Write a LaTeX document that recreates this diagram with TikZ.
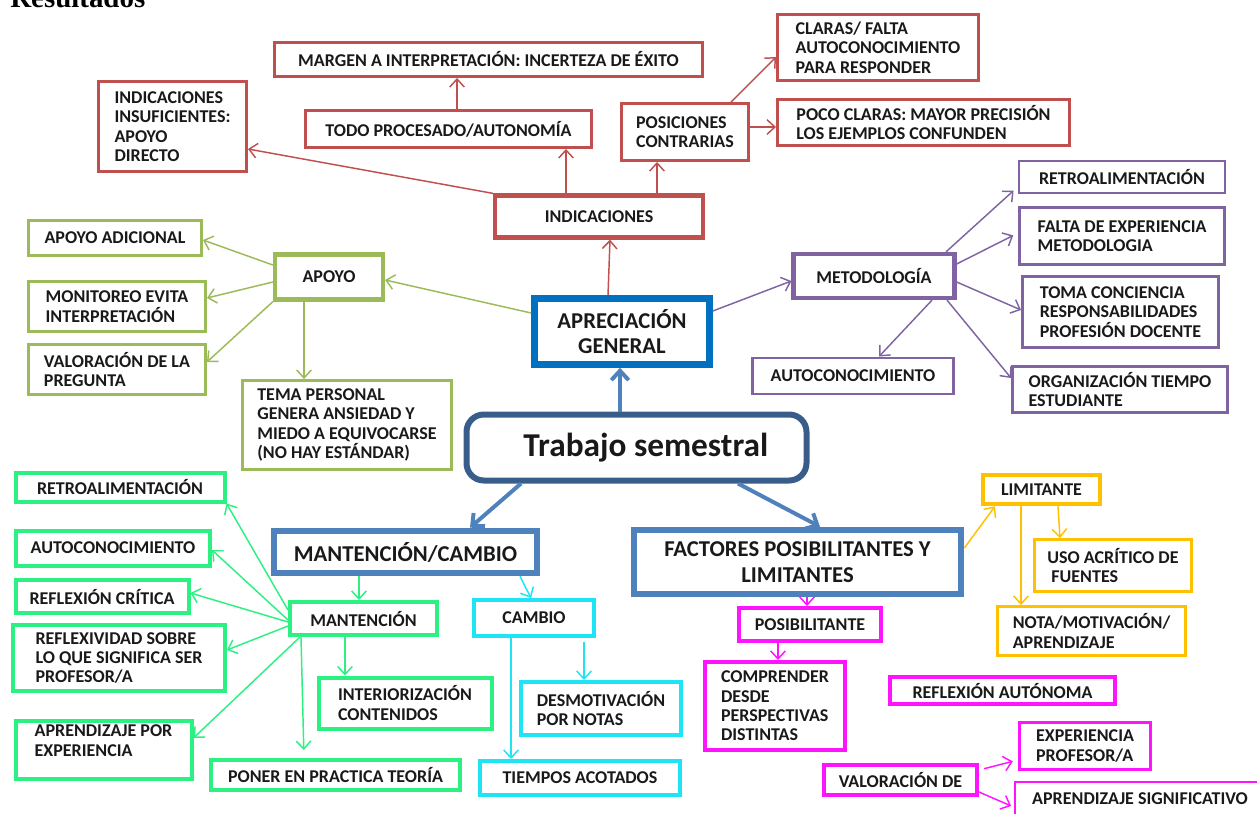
\documentclass[tikz,border=0pt]{standalone}
\usepackage{fontspec}
\setmainfont{Carlito}
\newfontfamily\titlefont{Liberation Serif}
\usetikzlibrary{arrows.meta}

\definecolor{cred}{RGB}{192,80,77}
\definecolor{colive}{RGB}{155,187,89}
\definecolor{cpurple}{RGB}{128,100,162}
\definecolor{cblue}{RGB}{0,112,192}
\definecolor{chead}{RGB}{79,129,189}
\definecolor{cmain}{RGB}{56,93,138}
\definecolor{cgreen}{RGB}{45,240,130}
\definecolor{ccyan}{RGB}{30,228,245}
\definecolor{cyellow}{RGB}{255,192,0}
\definecolor{cmag}{RGB}{255,20,255}

\tikzset{
	sz/.style 2 args={minimum width=#1*0.75pt, minimum height=#2*0.75pt},
}

\begin{document}
\begin{tikzpicture}[x=0.75pt,y=-0.75pt]
	\tikzstyle{box}=[draw, rectangle, inner sep=0pt, align=left, text=black!90, font=\bfseries\fontsize{13.5}{14.5}\selectfont]
	\tikzstyle{rbox}=[box, draw=cred, line width=2.2pt]
	\tikzstyle{obox}=[box, draw=colive, line width=2.2pt]
	\tikzstyle{pbox}=[box, draw=cpurple, line width=2.2pt]
	\tikzstyle{gbox}=[box, draw=cgreen, line width=3pt]
	\tikzstyle{cbox}=[box, draw=ccyan, line width=3pt]
	\tikzstyle{ybox}=[box, draw=cyellow, line width=2.2pt]
	\tikzstyle{mbox}=[box, draw=cmag, line width=3pt]
	\tikzstyle{hbox}=[box, draw=chead, line width=5pt, align=center, font=\bfseries\fontsize{17}{19}\selectfont]
	\tikzstyle{con}=[-{Straight Barb[length=6pt,width=11pt]}, line width=1.1pt]
	\tikzstyle{bcon}=[-{Straight Barb[length=7pt,width=13pt]}, line width=3pt, draw=chead]
	\useasboundingbox (0,0) rectangle (1257,814);
	\path (10,7) node[anchor=base west, inner sep=0pt, font=\titlefont\bfseries\fontsize{21.7}{24}\selectfont] (tit) {Resultados};
	% apreciacion general
	\path (622,331.5) node[box, sz={175}{66}, draw=cblue, line width=5pt, align=center, font=\bfseries\fontsize{17}{19}\selectfont] (aprec) {APRECIACIÓN\\GENERAL};
	\path (636.5,447.5) node[box, sz={340}{66}, draw=cmain, line width=4.5pt, rounded corners=13pt, font=\bfseries\fontsize{25}{27}\selectfont] (trab) {\hspace*{14pt}Trabajo semestral};
	\path (405.5,552) node[hbox, sz={263}{42}] (mc) {MANTENCIÓN/CAMBIO};
	\path (797.5,562) node[hbox, sz={327}{64}] (fact) {FACTORES POSIBILITANTES Y\\LIMITANTES};
	% indicaciones
	\path (599,216.5) node[rbox, sz={208}{42}, line width=3.2pt] (indic) {INDICACIONES};
	\path (488.5,59.5) node[rbox, sz={428}{34}] (marg) {MARGEN A INTERPRETACIÓN: INCERTEZA DE ÉXITO};
	\path (172.5,126.5) node[rbox, sz={148}{90}] (insuf) {INDICACIONES\\INSUFICIENTES:\\APOYO\\DIRECTO};
	\path (448.5,129) node[rbox, sz={286}{37}] (todo) {TODO PROCESADO/AUTONOMÍA};
	\path (685,132) node[rbox, sz={127}{57}] (posic) {POSICIONES\\CONTRARIAS};
	\path (878,47.5) node[rbox, sz={201}{66}] (claras) {CLARAS/ FALTA\\AUTOCONOCIMIENTO\\PARA RESPONDER};
	\path (923.5,122.5) node[rbox, sz={292}{46}] (poco) {POCO CLARAS: MAYOR PRECISIÓN\\LOS EJEMPLOS CONFUNDEN};
	% apoyo
	\path (329,277) node[obox, sz={108}{45}, line width=3.2pt] (apoyo) {APOYO};
	\path (115,238) node[obox, sz={173}{35}] (apad) {APOYO ADICIONAL};
	\path (117,306.5) node[obox, sz={177}{50}] (monit) {MONITOREO EVITA\\INTERPRETACIÓN};
	\path (117,369.5) node[obox, sz={177}{50}] (valp) {VALORACIÓN DE LA\\PREGUNTA};
	\path (347,425) node[obox, sz={209}{89}] (tema) {TEMA PERSONAL\\GENERA ANSIEDAD Y\\MIEDO A EQUIVOCARSE\\(NO HAY ESTÁNDAR)};
	% metodologia
	\path (874,276) node[pbox, sz={161}{44}, line width=3.2pt] (metod) {METODOLOGÍA};
	\path (1122,177) node[pbox, sz={206}{32}] (retro) {RETROALIMENTACIÓN};
	\path (1122,236) node[pbox, sz={205}{57}] (falta) {FALTA DE EXPERIENCIA\\METODOLOGIA};
	\path (1120.5,312) node[pbox, sz={196}{71}] (toma) {TOMA CONCIENCIA\\RESPONSABILIDADES\\PROFESIÓN DOCENTE};
	\path (853,376) node[pbox, sz={201}{36}] (autoc) {AUTOCONOCIMIENTO};
	\path (1120,389.5) node[pbox, sz={215}{46}] (organ) {ORGANIZACIÓN TIEMPO\\ESTUDIANTE};
	% mantencion
	\path (363.5,618.5) node[gbox, sz={147}{33}] (mant) {MANTENCIÓN};
	\path (120,487) node[gbox, sz={209}{29}] (gretro) {RETROALIMENTACIÓN};
	\path (113,548) node[gbox, sz={194}{35}] (gauto) {AUTOCONOCIMIENTO};
	\path (102,596.5) node[gbox, sz={173}{33}] (refl) {REFLEXIÓN CRÍTICA};
	\path (119,658) node[gbox, sz={212}{66}] (reflx) {REFLEXIVIDAD SOBRE\\LO QUE SIGNIFICA SER\\PROFESOR/A};
	\path (103.5,750) node[gbox, sz={176}{58}, text depth=14pt] (aprex) {APRENDIZAJE POR\\EXPERIENCIA};
	\path (405,703) node[gbox, sz={173}{51}] (inter) {INTERIORIZACIÓN\\CONTENIDOS};
	\path (335.5,775) node[gbox, sz={249}{30}] (poner) {PONER EN PRACTICA TEORÍA};
	% cambio
	\path (534,618) node[cbox, sz={120}{36}] (cambio) {CAMBIO};
	\path (601,708.5) node[cbox, sz={160}{53}] (desm) {DESMOTIVACIÓN\\POR NOTAS};
	\path (580,778) node[cbox, sz={200}{34}] (tiemp) {TIEMPOS ACOTADOS};
	% limitante
	\path (1041.5,489.5) node[ybox, sz={117}{29}, line width=3.4pt] (limit) {LIMITANTE};
	\path (1113,565.5) node[ybox, sz={157}{52}] (uso) {USO ACRÍTICO DE\\\hspace{3pt}FUENTES};
	\path (1091.5,631) node[ybox, sz={188}{49}] (nota) {NOTA/MOTIVACIÓN/\\APRENDIZAJE};
	% posibilitante
	\path (810,624.5) node[mbox, sz={142}{33}] (posib) {POSIBILITANTE};
	\path (775,706) node[mbox, sz={140}{88}] (compr) {COMPRENDER\\DESDE\\PERSPECTIVAS\\DISTINTAS};
	\path (1002.5,690.5) node[mbox, sz={225}{27}] (refla) {REFLEXIÓN AUTÓNOMA};
	\path (1085,746) node[mbox, sz={131}{47}, line width=2.2pt] (expp) {EXPERIENCIA\\PROFESOR/A};
	\path (900.5,780) node[mbox, sz={153}{30}] (valde) {VALORACIÓN DE};
	\path (1140,804) node[mbox, sz={250}{44}, line width=2.2pt, text depth=8pt] (aprsig) {APRENDIZAJE SIGNIFICATIVO};
	% conectores
	\draw[bcon] (trab.north -| 620,0) -- (aprec.south -| 620,0);
	\draw[bcon] (trab.south -| 521,0) -- (mc.north -| 470,0);
	\draw[bcon] (trab.south -| 738,0) -- (fact.north -| 820,0);
	\draw[con, cred] (aprec.north -| 608,0) -- (indic.south -| 610,0);
	\draw[con, cred] (indic.north west) -- (insuf.east |- 0,149);
	\draw[con, cred] (indic.north -| 566,0) -- (todo.south -| 566,0);
	\draw[con, cred] (indic.north -| 657,0) -- (posic.south -| 657,0);
	\draw[con, cred] (todo.north -| 457,0) -- (marg.south -| 457,0);
	\draw[con, cred] (posic.north -| 731,0) -- (claras.west |- 0,57);
	\draw[con, cred] (posic.east |- 0,127) -- (poco.west |- 0,127);
	\draw[con, colive] (aprec.west |- 0,313) -- (apoyo.east |- 0,280);
	\draw[con, colive] (apoyo.west |- 0,265) -- (apad.east |- 0,240);
	\draw[con, colive] (apoyo.west |- 0,282) -- (monit.east |- 0,298);
	\draw[con, colive] (apoyo.south west) -- (valp.east |- 0,362);
	\draw[con, colive] (apoyo.south -| 304,0) -- (tema.north -| 304,0);
	\draw[con, cpurple] (aprec.east |- 0,311) -- (metod.west |- 0,281);
	\draw[con, cpurple, shorten >=4pt] (metod.north -| 946,0) -- (retro.west |- 0,187);
	\draw[con, cpurple, shorten >=4pt] (metod.east |- 0,264) -- (falta.west |- 0,233);
	\draw[con, cpurple] (metod.east |- 0,282) -- (toma.west |- 0,310);
	\draw[con, cpurple] (metod.south -| 932,0) -- (autoc.north -| 879,0);
	\draw[con, cpurple] (metod.south -| 947,0) -- (organ.west |- 0,378);
	\draw[con, cgreen] (mc.south -| 359,0) -- (mant.north -| 359,0);
	\draw[con, cgreen] (mant.west |- 0,610) -- (gretro.south east);
	\draw[con, cgreen] (mant.west |- 0,620) -- (gauto.east |- 0,550);
	\draw[con, cgreen] (mant.west |- 0,622) -- (refl.east |- 0,593);
	\draw[con, cgreen] (mant.west |- 0,626) -- (reflx.east |- 0,650);
	\draw[con, cgreen] (mant.south -| 300,0) -- (aprex.east |- 0,738);
	\draw[con, cgreen, shorten >=6pt] (mant.south -| 301,0) -- (poner.north -| 304,0);
	\draw[con, cgreen] (mant.south -| 345,0) -- (inter.north -| 345,0);
	\draw[con, ccyan] (mc.south -| 520,0) -- (cambio.north -| 531,0);
	\draw[con, ccyan] (cambio.south -| 511,0) -- (tiemp.north -| 511,0);
	\draw[con, ccyan, shorten <=3pt] (cambio.south -| 584,0) -- (desm.north -| 584,0);
	\draw[con, cyellow] (fact.east |- 0,548) -- (limit.south -| 995,0);
	\draw[con, cyellow] (limit.south -| 1058,0) -- (uso.north -| 1060,0);
	\draw[con, cyellow] (limit.south -| 1021,0) -- (nota.north -| 1021,0);
	\draw[con, cmag] (fact.south -| 807,0) -- (posib.north -| 807,0);
	\draw[con, cmag] (posib.south -| 778,0) -- (compr.north -| 778,0);
	\draw[con, cmag, shorten <=4pt, shorten >=4pt] (valde.east |- 0,770) -- (expp.west |- 0,760);
	\draw[con, cmag, shorten >=2pt] (valde.east |- 0,792) -- (aprsig.west |- 0,807);
\end{tikzpicture}
\end{document}
